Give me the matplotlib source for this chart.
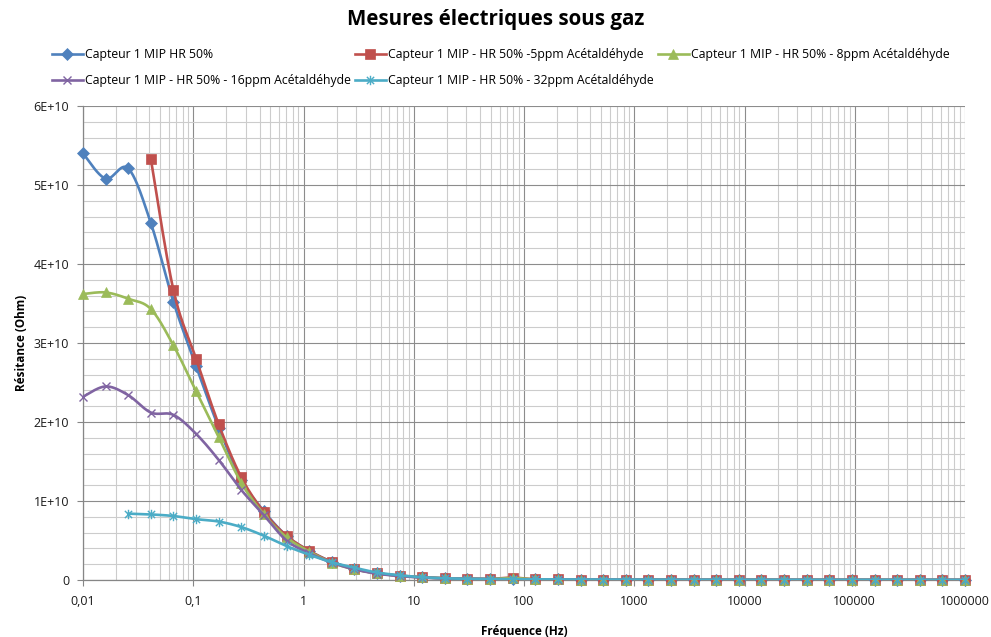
import numpy as np
import matplotlib
matplotlib.use("Agg")
import matplotlib.pyplot as plt
from matplotlib.path import Path
from matplotlib.lines import Line2D
from matplotlib.ticker import FixedLocator, FuncFormatter, NullFormatter

plt.rcParams['font.family'] = ['Open Sans', 'DejaVu Sans']

# Frequency sweep (Hz), 40 log-spaced points from 0.01 Hz to 1 MHz
freq = [0.01, 0.016035, 0.025713, 0.041232, 0.066115, 0.10608, 0.17013, 0.27283,
        0.43755, 0.70170, 1.1253, 1.8047, 2.8943, 4.6416, 7.4438, 11.938, 19.145,
        30.703, 49.239, 78.965, 126.64, 203.09, 325.70, 522.34, 837.69, 1343.4,
        2154.4, 3455.1, 5541.0, 8886.2, 14251, 22855, 36652, 58780, 94267,
        151177, 242446, 388816, 623551, 1000000]

# Resistance (units of 1E+10 Ohm); None = no measurement
r_ref = [5.40, 5.08, 5.21, 4.52, 3.52, 2.71, 1.93, 1.27, 0.87, 0.56, 0.37, 0.23, 0.14,
         0.085, 0.055, 0.035, 0.022, 0.016, 0.013, 0.011, 0.008, 0.007, 0.006, 0.005,
         0.004, 0.004, 0.003, 0.003, 0.003, 0.002, 0.002, 0.002, 0.002, 0.002, 0.001,
         0.001, 0.001, 0.001, 0.001, 0.001]
r_5ppm = [None, None, None, 5.33, 3.67, 2.80, 1.97, 1.30, 0.86, 0.56, 0.37, 0.23, 0.14,
          0.085, 0.055, 0.035, 0.022, 0.016, 0.013, 0.030, 0.008, 0.007, 0.006, 0.005,
          0.004, 0.004, 0.003, 0.003, 0.003, 0.002, 0.002, 0.002, 0.002, 0.002, 0.001,
          0.001, 0.001, 0.001, 0.001, 0.001]
r_8ppm = [3.62, 3.64, 3.56, 3.43, 2.97, 2.39, 1.81, 1.23, 0.83, 0.54, 0.36, 0.22, 0.135,
          0.085, 0.053, 0.033, 0.021, 0.015, 0.012, 0.025, 0.008, 0.007, 0.006, 0.005,
          0.004, 0.004, 0.003, 0.003, 0.003, 0.002, 0.002, 0.002, 0.002, 0.002, 0.001,
          0.001, 0.001, 0.001, 0.001, 0.001]
r_16ppm = [2.32, 2.45, 2.34, 2.12, 2.09, 1.85, 1.52, 1.14, 0.82, 0.50, 0.34, 0.22, 0.135,
           0.08, 0.05, 0.03, 0.02, 0.014, 0.011, 0.009, 0.007, 0.006, 0.005, 0.004,
           0.004, 0.003, 0.003, 0.003, 0.002, 0.002, 0.002, 0.002, 0.002, 0.001, 0.001,
           0.001, 0.001, 0.001, 0.001, 0.001]
r_32ppm = [None, None, 0.84, 0.83, 0.81, 0.77, 0.74, 0.67, 0.56, 0.43, 0.32, 0.225, 0.155,
           0.095, 0.06, 0.035, 0.022, 0.015, 0.012, 0.010, 0.008, 0.007, 0.006, 0.005,
           0.004, 0.004, 0.003, 0.003, 0.003, 0.002, 0.002, 0.002, 0.002, 0.002, 0.001,
           0.001, 0.001, 0.001, 0.001, 0.001]

labels = ["Capteur 1 MIP HR 50%",
          "Capteur 1 MIP - HR 50% -5ppm Acétaldéhyde",
          "Capteur 1 MIP - HR 50% - 8ppm Acétaldéhyde",
          "Capteur 1 MIP - HR 50% - 16ppm Acétaldéhyde",
          "Capteur 1 MIP - HR 50% - 32ppm Acétaldéhyde"]
series = [r_ref, r_5ppm, r_8ppm, r_16ppm, r_32ppm]
colors = ['#4F81BD', '#C0504D', '#9BBB59', '#8064A2', '#4BACC6']

# x-axis decades and their labels
x_ticks = [0.01, 0.1, 1, 10, 100, 1000, 10000, 100000, 1000000]
x_tick_labels = ["0,01", "0,1", "1", "10", "100", "1000", "10000", "100000", "1000000"]

# asterisk marker: an "x" with a vertical stroke
star_path = Path([(-1, -1), (1, 1), (-1, 1), (1, -1), (0, -1.3), (0, 1.3)],
                 [Path.MOVETO, Path.LINETO, Path.MOVETO, Path.LINETO,
                  Path.MOVETO, Path.LINETO])
marker_styles = [
    dict(marker='D', ms=5.8, mfc=colors[0], mec=colors[0], mew=0.5),
    dict(marker='s', ms=7.3, mfc=colors[1], mec=colors[1], mew=0.5),
    dict(marker='^', ms=7.8, mfc=colors[2], mec=colors[2], mew=0.5),
    dict(marker='x', ms=6.3, mfc='none', mec=colors[3], mew=1.0),
    dict(marker=star_path, ms=6.8, mfc='none', mec=colors[4], mew=1.0),
]


def smooth(u, v, n=24):
    """Cubic Bezier smoothing through the points (Catmull-Rom tangents)."""
    u = np.asarray(u, float)
    v = np.asarray(v, float)
    pts = np.column_stack([u, v])
    out = [pts[0]]
    t = np.linspace(0, 1, n)[1:]
    for i in range(len(pts) - 1):
        p0 = pts[i - 1] if i > 0 else pts[i]
        p1 = pts[i]
        p2 = pts[i + 1]
        p3 = pts[i + 2] if i + 2 < len(pts) else pts[i + 1]
        c1 = p1 + (p2 - p0) / 6.0
        c2 = p2 - (p3 - p1) / 6.0
        seg = ((1 - t) ** 3)[:, None] * p1 + (3 * (1 - t) ** 2 * t)[:, None] * c1 \
            + (3 * (1 - t) * t ** 2)[:, None] * c2 + (t ** 3)[:, None] * p2
        out.extend(seg)
    out = np.array(out)
    return out[:, 0], out[:, 1]


W, H = 991, 637
fig = plt.figure(figsize=(W / 100, H / 100), dpi=100)
ax = fig.add_axes([83 / W, (H - 580) / H, 882 / W, 474 / H])

handles = []
for i, (vals, lab, col, ms) in enumerate(zip(series, labels, colors, marker_styles)):
    f = np.array([fq for fq, v in zip(freq, vals) if v is not None])
    r = np.array([v for v in vals if v is not None]) * 1e10
    su, sv = smooth(np.log10(f), r)
    ax.plot(10 ** su, sv, color=col, lw=1.9, zorder=3 + 2 * i, solid_capstyle='round')
    ax.plot(f, r, linestyle='none', zorder=4 + 2 * i, clip_on=False, **ms)
    handles.append(Line2D([], [], color=col, lw=1.9, **ms))

ax.set_xscale('log')
ax.set_xlim(x_ticks[0], x_ticks[-1])
ax.set_ylim(0, 6e10)

ax.yaxis.set_major_locator(FixedLocator(np.arange(0, 6.01e10, 1e10)))
ax.yaxis.set_minor_locator(FixedLocator(np.arange(0, 6.01e10, 2e9)))
ax.yaxis.set_major_formatter(FuncFormatter(
    lambda v, p: "0" if v == 0 else f"{int(round(v / 1e10))}E+10"))

ax.set_xticks(x_ticks)
ax.set_xticklabels(x_tick_labels)
minor_x = [d * m for d in x_ticks[:-1] for m in range(2, 10)]
ax.xaxis.set_minor_locator(FixedLocator(minor_x))
ax.xaxis.set_minor_formatter(NullFormatter())

ax.grid(which='major', color='#8c8c8c', lw=0.8, zorder=0)
ax.grid(which='minor', color='#cccccc', lw=0.8, zorder=0)
ax.set_axisbelow(True)

for s in ('top', 'right'):
    ax.spines[s].set_visible(False)
for s in ('left', 'bottom'):
    ax.spines[s].set_color('#868686')
    ax.spines[s].set_linewidth(0.9)

ax.tick_params(which='major', length=4, width=0.8, color='#868686',
               labelsize=9, labelcolor='#1a1a1a')
ax.tick_params(axis='x', which='major', pad=7)
ax.tick_params(axis='y', which='major', pad=6)
ax.tick_params(which='minor', length=0)

ax.set_xlabel("Fréquence (Hz)", fontsize=8.5, fontweight='bold', labelpad=12)
ax.set_ylabel("Résitance (Ohm)", fontsize=8.5, fontweight='bold', labelpad=4)

fig.text(0.5, 1 - 19 / H, "Mesures électriques sous gaz", ha='center', va='center',
         fontsize=14.8, fontweight='bold')

order = [0, 3, 1, 4, 2]
fig.legend([handles[i] for i in order], [labels[i] for i in order],
           loc='upper left', bbox_to_anchor=(52 / W, 1 - 48 / H), ncol=3,
           frameon=False, fontsize=8.8, handlelength=2.5, handletextpad=0.2,
           columnspacing=0.35, labelspacing=1.05, borderaxespad=0, borderpad=0)

fig.savefig("out.png", dpi=100)
